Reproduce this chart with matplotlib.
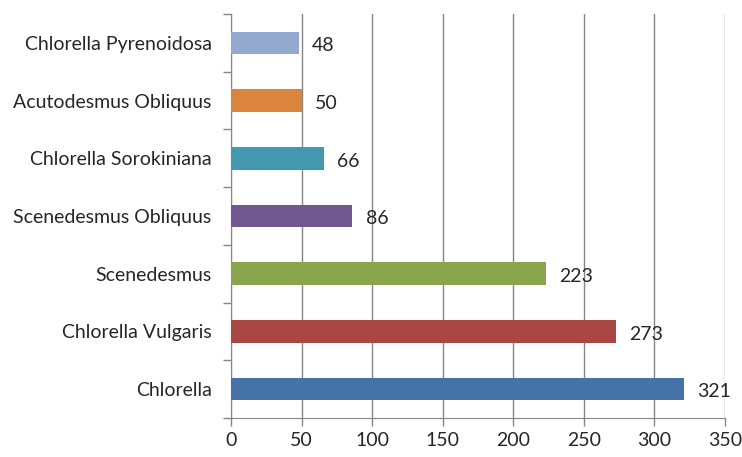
import matplotlib
matplotlib.use("Agg")
import matplotlib.pyplot as plt
import numpy as np

categories = ["Chlorella", "Chlorella Vulgaris", "Scenedesmus", "Scenedesmus Obliquus",
              "Chlorella Sorokiniana", "Acutodesmus Obliquus", "Chlorella Pyrenoidosa"]
values = [321, 273, 223, 86, 66, 50, 48]
colors = ["#4572A7", "#AA4643", "#89A54E", "#71588F", "#4198AF", "#DB843D", "#93A9CF"]
xticks = [0, 50, 100, 150, 200, 250, 300, 350]

plt.rcParams['font.family'] = ['Lato', 'DejaVu Sans']

fig = plt.figure(figsize=(7.42, 4.57), dpi=100)
ax = fig.add_axes([231/742, 1-418/457, (725-231)/742, (418-14)/457])

y = np.arange(len(categories))
ax.barh(y, values, height=0.39, color=colors, zorder=3)
for yi, v in zip(y, values):
    ax.annotate(str(v), (v, yi), xytext=(9.5, -2), textcoords="offset points",
                ha="left", va="center", fontsize=14, color="#262626")

ax.set_xlim(0, 350)
ax.set_ylim(-0.5, len(categories) - 0.5)
ax.set_xticks(xticks)
ax.set_xticklabels([str(t) for t in xticks], fontsize=14, color="#262626")
ax.set_yticks(y)
ax.set_yticklabels(categories, fontsize=14, color="#262626")
ax.tick_params(axis='y', length=0, pad=14)
ax.set_yticks(np.arange(-0.5, len(categories), 1.0), minor=True)
ax.tick_params(axis='y', which='minor', length=6, color="#868686", width=1)
ax.tick_params(axis='x', length=6, color="#868686", width=1, pad=4)
ax.grid(axis='x', color="#868686", linewidth=1, zorder=0)
for s in ["top", "right"]:
    ax.spines[s].set_visible(False)
ax.spines["left"].set_color("#868686")
ax.spines["bottom"].set_color("#868686")

fig.savefig("out.png", dpi=100)
